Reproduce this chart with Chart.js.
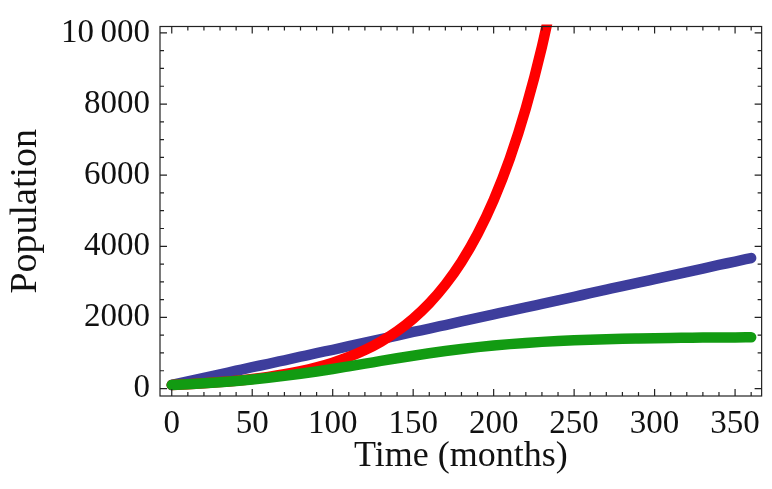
<!DOCTYPE html>
<html lang="en">
<head>
    <meta charset="UTF-8">
    <title>Population models</title>
    <script src="https://cdn.jsdelivr.net/npm/chart.js"></script>
    <style>
        body, html {
            margin: 0;
            padding: 0;
            background: #fff;
        }
        .chart-container {
            width: 772px;
            height: 489px;
            position: relative;
        }
    </style>
</head>
<body>
    <div class="chart-container">
        <canvas id="popChart"></canvas>
    </div>

    <script>
        // Values, every 10 months
        const months = [0, 10, 20, 30, 40, 50, 60, 70, 80, 90, 100, 110, 120, 130, 140, 150, 160, 170, 180,
            190, 200, 210, 220, 230, 240, 250, 260, 270, 280, 290, 300, 310, 320, 330, 340, 350, 360];

        const linearPop = [100, 200, 300, 400, 500, 600, 695, 795, 895, 995, 1090, 1190, 1290, 1390, 1490,
            1590, 1685, 1785, 1885, 1985, 2085, 2185, 2280, 2380, 2480, 2580, 2680, 2780, 2880, 2975,
            3075, 3175, 3275, 3375, 3475, 3570, 3670];

        // only up to 240 months, the rest is off the top of the plot
        const exponentialPop = [100, 122, 149, 181, 221, 270, 329, 401, 489, 597, 728, 888, 1083, 1320,
            1610, 1964, 2395, 2921, 3562, 4344, 5298, 6461, 7880, 9611, 11720];

        const logisticPop = [100, 122, 147, 178, 213, 254, 302, 355, 415, 480, 550, 624, 699, 776, 851,
            923, 992, 1055, 1113, 1165, 1210, 1249, 1283, 1312, 1336, 1356, 1373, 1387, 1399, 1408,
            1416, 1422, 1427, 1432, 1435, 1438, 1440];

        const xTicks = [0, 50, 100, 150, 200, 250, 300, 350];
        const yTicks = [0, 2000, 4000, 6000, 8000, 10000];

        const toPoints = vals => vals.map((v, i) => ({ x: months[i], y: v }));

        const serif = 'Liberation Serif, Times New Roman, serif';

        // Mathematica style frame with inward ticks on all four sides
        const framePlugin = {
            id: 'frame',
            afterDraw(chart) {
                const { ctx, chartArea: a, scales: { x, y } } = chart;
                ctx.save();
                ctx.strokeStyle = '#222';
                ctx.lineWidth = 1.2;
                ctx.strokeRect(a.left, a.top, a.right - a.left, a.bottom - a.top);
                ctx.beginPath();
                for (let v = 0; v <= 360; v += 10) {
                    const px = x.getPixelForValue(v);
                    const len = v % 50 === 0 ? 7 : 4;
                    ctx.moveTo(px, a.bottom); ctx.lineTo(px, a.bottom - len);
                    ctx.moveTo(px, a.top); ctx.lineTo(px, a.top + len);
                }
                for (let v = 0; v <= 10000; v += 500) {
                    const py = y.getPixelForValue(v);
                    const len = v % 2000 === 0 ? 7 : 4;
                    ctx.moveTo(a.left, py); ctx.lineTo(a.left + len, py);
                    ctx.moveTo(a.right, py); ctx.lineTo(a.right - len, py);
                }
                ctx.stroke();
                ctx.restore();
            }
        };

        const lineStyle = {
            borderWidth: 10.5,
            borderCapStyle: 'round',
            borderJoinStyle: 'round',
            pointRadius: 0,
            cubicInterpolationMode: 'monotone',
            fill: false,
            clip: { left: 10, right: 10, top: 2, bottom: 10 }
        };

        const ctx = document.getElementById('popChart').getContext('2d');
        const popChart = new Chart(ctx, {
            type: 'line',
            data: {
                datasets: [
                    { label: 'Logistic', data: toPoints(logisticPop), borderColor: '#129b12', ...lineStyle },
                    { label: 'Exponential', data: toPoints(exponentialPop), borderColor: '#ff0000', ...lineStyle },
                    { label: 'Linear', data: toPoints(linearPop), borderColor: '#3d3d9c', ...lineStyle }
                ]
            },
            options: {
                responsive: true,
                maintainAspectRatio: false,
                animation: false,
                layout: { padding: { top: 16, right: 4, left: 0, bottom: 0 } },
                plugins: {
                    legend: { display: false },
                    tooltip: { enabled: false }
                },
                scales: {
                    x: {
                        type: 'linear',
                        min: -7.3,
                        max: 366.5,
                        grid: { display: false, drawTicks: false },
                        border: { display: false },
                        afterBuildTicks: scale => { scale.ticks = xTicks.map(v => ({ value: v })); },
                        afterFit: scale => { scale.height = 93; },
                        ticks: {
                            color: '#111',
                            font: { family: serif, size: 33, lineHeight: 1 },
                            padding: 12,
                            maxRotation: 0,
                            autoSkip: false
                        },
                        title: {
                            display: true,
                            text: 'Time (months)',
                            color: '#111',
                            font: { family: serif, size: 36, lineHeight: 1 },
                            padding: { top: 0, bottom: 14 }
                        }
                    },
                    y: {
                        min: -210,
                        max: 10180,
                        grid: { display: false, drawTicks: false },
                        border: { display: false },
                        afterBuildTicks: scale => { scale.ticks = yTicks.map(v => ({ value: v })); },
                        afterFit: scale => { scale.width = 160; },
                        ticks: {
                            color: '#111',
                            font: { family: serif, size: 33, lineHeight: 1 },
                            padding: 10,
                            callback: v => v === 10000 ? '10\u2009000' : String(v)
                        },
                        title: {
                            display: true,
                            text: 'Population',
                            color: '#111',
                            font: { family: serif, size: 38, lineHeight: 1 },
                            padding: { top: 7, bottom: 0 }
                        }
                    }
                }
            },
            plugins: [framePlugin]
        });
    </script>
</body>
</html>
